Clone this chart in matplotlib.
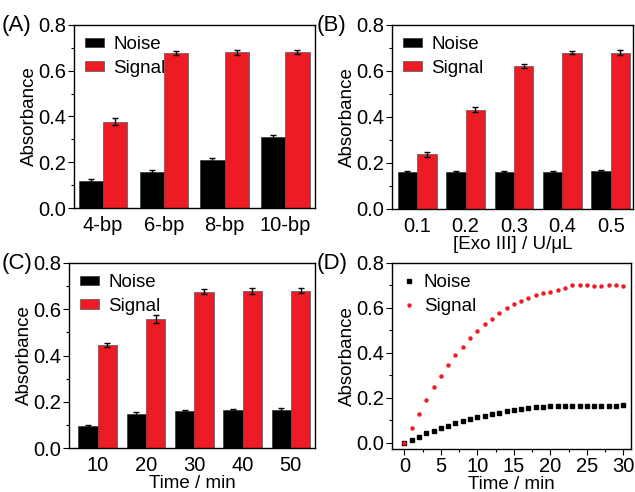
import matplotlib
matplotlib.use("Agg")
import matplotlib.pyplot as plt
from matplotlib.ticker import MultipleLocator
import numpy as np

plt.rcParams['font.family'] = ['Liberation Sans', 'DejaVu Sans']
plt.rcParams['font.size'] = 13

RED = '#ED1C24'

# Panel A
a_cats = ['4-bp', '6-bp', '8-bp', '10-bp']
a_noise = [0.119, 0.159, 0.211, 0.310]
a_noise_err = [0.007, 0.005, 0.008, 0.009]
a_signal = [0.378, 0.679, 0.680, 0.682]
a_signal_err = [0.015, 0.009, 0.009, 0.010]

# Panel B
b_cats = ['0.1', '0.2', '0.3', '0.4', '0.5']
b_noise = [0.160, 0.162, 0.160, 0.162, 0.165]
b_noise_err = [0.004, 0.004, 0.004, 0.004, 0.005]
b_signal = [0.237, 0.432, 0.621, 0.680, 0.680]
b_signal_err = [0.012, 0.010, 0.008, 0.007, 0.011]

# Panel C
c_cats = ['10', '20', '30', '40', '50']
c_noise = [0.094, 0.145, 0.161, 0.163, 0.165]
c_noise_err = [0.007, 0.009, 0.005, 0.005, 0.006]
c_signal = [0.444, 0.557, 0.676, 0.679, 0.681]
c_signal_err = [0.009, 0.016, 0.012, 0.012, 0.010]

# Panel D
d_time = list(range(0, 31))
d_noise = [0.0, 0.013, 0.028, 0.042, 0.055, 0.066, 0.077, 0.087, 0.097, 0.106,
           0.114, 0.121, 0.128, 0.134, 0.140, 0.147, 0.151, 0.155, 0.158, 0.161,
           0.162, 0.163, 0.164, 0.164, 0.164, 0.164, 0.164, 0.164, 0.164, 0.164, 0.167]
d_signal = [0.0, 0.068, 0.130, 0.190, 0.247, 0.298, 0.345, 0.390, 0.428, 0.465,
            0.496, 0.527, 0.553, 0.577, 0.599, 0.617, 0.633, 0.646, 0.657, 0.666,
            0.673, 0.680, 0.689, 0.700, 0.703, 0.703, 0.699, 0.699, 0.700, 0.700, 0.697]

W, H = 635, 492
fig = plt.figure(figsize=(W / 100, H / 100), dpi=100)

TICK_FS = 14.5
LABEL_FS = 13.5
LEG_FS = 13.5


def add_ax(l, r, t, b):
    return fig.add_axes([l / W, (H - b) / H, (r - l) / W, (b - t) / H])


def style(ax):
    ax.set_ylim(0, 0.8)
    ax.yaxis.set_major_locator(MultipleLocator(0.2))
    ax.yaxis.set_minor_locator(MultipleLocator(0.1))
    ax.yaxis.set_major_formatter(matplotlib.ticker.FormatStrFormatter('%.1f'))
    ax.tick_params(axis='y', which='major', direction='out', length=4, width=0.8,
                   labelsize=TICK_FS, pad=1.5)
    ax.tick_params(axis='y', which='minor', direction='out', length=2.5, width=0.8)
    for s in ax.spines.values():
        s.set_linewidth(1.0)
    ax.set_ylabel('Absorbance', fontsize=LABEL_FS, labelpad=0.5)


def bars(ax, cats, noise, nerr, signal, serr, xlim):
    x = np.arange(len(cats))
    w = 0.4
    ax.bar(x - w / 2, noise, w, color='black', edgecolor='#333333', linewidth=0.5,
           yerr=nerr, ecolor='black', capsize=2, error_kw=dict(elinewidth=1, capthick=1),
           label='Noise')
    ax.bar(x + w / 2, signal, w, color=RED, edgecolor='#555555', linewidth=0.5,
           yerr=serr, ecolor='black', capsize=2, error_kw=dict(elinewidth=1, capthick=1),
           label='Signal')
    ax.set_xticks(x)
    ax.set_xticklabels(cats)
    ax.tick_params(axis='x', length=0, labelsize=TICK_FS, pad=6)
    ax.set_xlim(*xlim)
    style(ax)
    ax.legend(loc='upper left', frameon=False, fontsize=LEG_FS, handlelength=1.0,
              handleheight=0.4, handletextpad=0.5, labelspacing=0.35,
              borderaxespad=0.3, borderpad=0.3, bbox_to_anchor=(0.0, 1.0))


axA = add_ax(74, 315, 25, 208)
bars(axA, a_cats, a_noise, a_noise_err, a_signal, a_signal_err, (-0.48, 3.49))

axB = add_ax(392, 633, 25, 209)
bars(axB, b_cats, b_noise, b_noise_err, b_signal, b_signal_err, (-0.52, 4.46))
axB.set_xlabel('[Exo III] / U/μL', fontsize=LABEL_FS, labelpad=0)

axC = add_ax(69, 315, 263, 448)
bars(axC, c_cats, c_noise, c_noise_err, c_signal, c_signal_err, (-0.59, 4.5))
axC.set_xlabel('Time / min', fontsize=LABEL_FS, labelpad=0)

axD = add_ax(392, 631, 263, 449)
axD.plot(d_time, d_noise, linestyle='none', marker='s', markersize=2.8, color='black', label='Noise')
axD.plot(d_time, d_signal, linestyle='none', marker='o', markersize=3.2, color=RED,
         markeredgewidth=0, label='Signal')
style(axD)
axD.set_ylim(-0.027, 0.8)
axD.set_xlim(-1.7, 31.05)
axD.xaxis.set_major_locator(MultipleLocator(5))
axD.xaxis.set_minor_locator(MultipleLocator(2.5))
axD.tick_params(axis='x', which='major', direction='out', length=4, width=0.8,
                labelsize=TICK_FS, pad=1.5)
axD.tick_params(axis='x', which='minor', direction='out', length=2.5, width=0.8)
axD.set_xlabel('Time / min', fontsize=LABEL_FS, labelpad=0)
axD.legend(loc='upper left', frameon=False, fontsize=LEG_FS, handlelength=0.6,
           handletextpad=0.5, labelspacing=0.35, borderaxespad=0.3, borderpad=0.3,
           markerscale=1.0)

for lbl, (px, py) in {'(A)': (2, 26), '(B)': (317, 26), '(C)': (2, 263), '(D)': (317, 263)}.items():
    fig.text(px / W, 1 - py / H, lbl, fontsize=16, va='center', ha='left')

fig.savefig('out.png', dpi=100)
